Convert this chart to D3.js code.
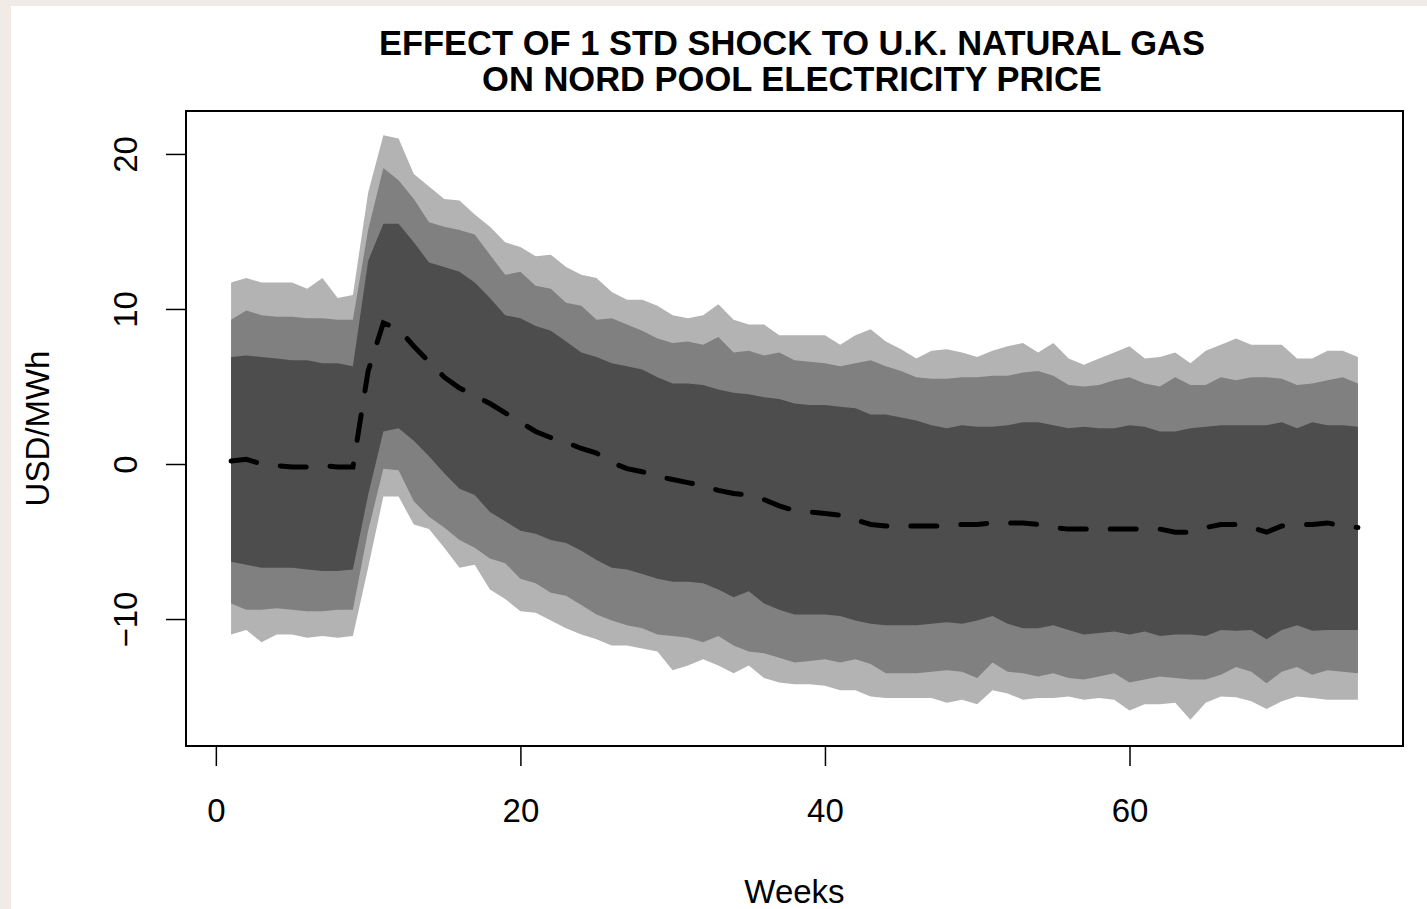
<!DOCTYPE html>
<html>
<head>
<meta charset="utf-8">
<script src="https://cdn.jsdelivr.net/npm/d3@7"></script>
<style>
  body { margin: 0; background: #ffffff; }
  text { font-family: "Liberation Sans", Arial, sans-serif; fill: #000; }
</style>
</head>
<body>
<svg id="chart" width="1427" height="909"></svg>
<script>
// weeks after the shock
var weeks = d3.range(1, 76);

// outer band (light grey)
var upperLight = [11.7, 12.0, 11.7, 11.7, 11.7, 11.3, 12.0, 10.7, 10.9, 17.5,
    21.2, 21.0, 18.7, 17.9, 17.1, 17.0, 16.1, 15.3, 14.3, 14.0,
    13.4, 13.5, 12.7, 12.2, 12.0, 11.1, 10.6, 10.6, 10.2, 9.6,
    9.4, 9.6, 10.3, 9.3, 9.0, 9.0, 8.3, 8.3, 8.3, 8.3,
    7.7, 8.3, 8.7, 7.9, 7.4, 6.8, 7.3, 7.4, 7.2, 6.9,
    7.3, 7.6, 7.8, 7.2, 7.8, 6.8, 6.4, 6.8, 7.2, 7.6,
    6.8, 6.9, 7.2, 6.5, 7.3, 7.7, 8.1, 7.7, 7.7, 7.7,
    6.8, 6.8, 7.3, 7.3, 6.9];
var lowerLight = [-11.0, -10.7, -11.5, -11.0, -11.0, -11.2, -11.1, -11.2, -11.1, -6.7,
    -2.1, -2.1, -3.9, -4.2, -5.4, -6.7, -6.5, -8.1, -8.7, -9.5,
    -9.6, -10.1, -10.6, -11.0, -11.3, -11.7, -11.7, -11.9, -12.1, -13.3,
    -13.0, -12.6, -13.0, -13.5, -13.0, -13.8, -14.1, -14.2, -14.2, -14.3,
    -14.6, -14.6, -15.0, -15.1, -15.1, -15.1, -15.1, -15.4, -15.2, -15.5,
    -14.6, -14.8, -15.2, -15.1, -15.1, -15.0, -15.2, -15.1, -15.2, -15.9,
    -15.5, -15.5, -15.4, -16.5, -15.4, -15.0, -15.05, -15.3, -15.8, -15.3,
    -15.0, -15.1, -15.2, -15.2, -15.2];

// middle band (mid grey)
var upperMid = [9.3, 9.9, 9.6, 9.5, 9.5, 9.4, 9.4, 9.3, 9.3, 15.1,
    19.1, 18.3, 17.1, 15.6, 15.3, 15.1, 14.8, 13.5, 12.2, 12.4,
    11.5, 11.3, 10.4, 10.2, 9.3, 9.4, 9.0, 8.6, 8.1, 7.8,
    7.9, 7.7, 8.2, 7.2, 7.3, 7.0, 7.2, 6.7, 6.6, 6.5,
    6.3, 6.5, 6.7, 6.3, 6.0, 5.6, 5.5, 5.5, 5.6, 5.6,
    5.7, 5.7, 5.9, 6.0, 5.7, 5.1, 5.0, 5.1, 5.4, 5.6,
    5.2, 5.0, 5.6, 5.1, 5.1, 5.6, 5.4, 5.6, 5.6, 5.5,
    5.1, 5.2, 5.4, 5.6, 5.2];
var lowerMid = [-9.0, -9.4, -9.4, -9.3, -9.4, -9.5, -9.5, -9.4, -9.4, -4.3,
    -0.3, -0.4, -2.4, -3.4, -4.1, -4.9, -5.4, -6.1, -6.4, -7.4,
    -7.7, -8.3, -8.5, -9.1, -9.7, -10.1, -10.4, -10.6, -11.0, -11.1,
    -11.2, -11.5, -11.1, -11.7, -12.1, -12.2, -12.5, -12.8, -12.7, -12.6,
    -12.8, -12.6, -12.9, -13.5, -13.5, -13.5, -13.4, -13.3, -13.4, -13.8,
    -12.8, -13.4, -13.5, -13.7, -13.5, -13.8, -13.9, -13.7, -13.5, -14.1,
    -13.9, -13.7, -13.8, -13.9, -13.9, -13.6, -13.1, -13.4, -14.15, -13.4,
    -13.1, -13.6, -13.3, -13.4, -13.5];

// inner band (dark grey)
var upperDark = [6.9, 7.0, 6.9, 6.8, 6.7, 6.7, 6.5, 6.5, 6.3, 13.1,
    15.5, 15.5, 14.3, 13.0, 12.7, 12.4, 11.7, 10.7, 9.6, 9.4,
    8.9, 8.6, 7.9, 7.2, 6.9, 6.5, 6.3, 6.1, 5.6, 5.2,
    5.2, 5.1, 4.8, 4.6, 4.5, 4.3, 4.2, 3.9, 3.8, 3.8,
    3.7, 3.6, 3.2, 3.2, 3.0, 2.8, 2.5, 2.3, 2.5, 2.4,
    2.4, 2.5, 2.7, 2.7, 2.5, 2.3, 2.4, 2.3, 2.3, 2.5,
    2.4, 2.1, 2.1, 2.3, 2.4, 2.5, 2.5, 2.5, 2.5, 2.7,
    2.3, 2.7, 2.5, 2.5, 2.4];
var lowerDark = [-6.3, -6.5, -6.7, -6.7, -6.7, -6.8, -6.9, -6.9, -6.8, -2.0,
    2.1, 2.3, 1.5, 0.5, -0.6, -1.6, -2.0, -3.1, -3.7, -4.3,
    -4.5, -4.9, -5.1, -5.6, -6.2, -6.7, -6.8, -7.1, -7.4, -7.6,
    -7.6, -7.7, -8.1, -8.6, -8.2, -9.0, -9.4, -9.7, -9.7, -9.7,
    -9.8, -10.1, -10.3, -10.4, -10.4, -10.4, -10.3, -10.2, -10.3, -10.1,
    -9.8, -10.3, -10.6, -10.6, -10.4, -10.7, -11.0, -10.9, -10.8, -11.0,
    -10.8, -11.1, -11.0, -11.0, -11.1, -10.7, -10.75, -10.7, -11.3, -10.7,
    -10.4, -10.75, -10.7, -10.7, -10.7];

// median response (dashed)
var median = [0.2, 0.3, 0.0, -0.1, -0.2, -0.2, -0.1, -0.2, -0.2, 6.0,
    9.1, 8.7, 7.6, 6.6, 5.6, 4.9, 4.4, 3.9, 3.3, 2.7,
    2.1, 1.7, 1.4, 1.0, 0.7, 0.1, -0.3, -0.5, -0.8, -1.0,
    -1.2, -1.4, -1.7, -1.9, -2.0, -2.3, -2.7, -3.0, -3.1, -3.2,
    -3.3, -3.6, -3.9, -4.0, -4.0, -4.0, -4.0, -4.0, -3.9, -3.9,
    -3.8, -3.8, -3.8, -3.9, -4.1, -4.2, -4.2, -4.2, -4.2, -4.2,
    -4.2, -4.2, -4.4, -4.4, -4.1, -3.9, -3.9, -4.1, -4.4, -4.0,
    -3.9, -3.9, -3.8, -4.0, -4.1];

var xTicks = [0, 20, 40, 60];
var yTicks = [-10, 0, 10, 20];

var titleLines = ["EFFECT OF 1 STD SHOCK TO U.K. NATURAL GAS", "ON NORD POOL ELECTRICITY PRICE"];

//////////////////////////////////////////////////////////////////////
var plot = { left: 186, top: 111, right: 1403, bottom: 746 };

var svg = d3.select("#chart");

// beige window frame on the left / top
svg.append("rect").attr("x", 0).attr("y", 0).attr("width", 1427).attr("height", 6).style("fill", "#f0ece5");
svg.append("rect").attr("x", 0).attr("y", 0).attr("width", 11).attr("height", 909).style("fill", "#f0ece5");

// R style 4% padding on both axes
var x = d3.scaleLinear()
    .domain([1 - 74 * 0.04, 75 + 74 * 0.04])
    .range([plot.left, plot.right]);

var y = d3.scaleLinear()
    .domain([-18.19, 22.77])
    .range([plot.bottom, plot.top]);

function band(upper, lower) {
    return d3.area()
        .x(d => x(d))
        .y0((d, i) => y(lower[i]))
        .y1((d, i) => y(upper[i]))(weeks);
}

var bands = [
    { up: upperLight, lo: lowerLight, col: "#b3b3b3" },
    { up: upperMid, lo: lowerMid, col: "#808080" },
    { up: upperDark, lo: lowerDark, col: "#4d4d4d" }
];

var g = svg.append("g").attr("class", "fan");
bands.forEach(function (b) {
    g.append("path")
        .attr("d", band(b.up, b.lo))
        .style("fill", b.col)
        .style("stroke", "none");
});

// median line
var line = d3.line()
    .x(d => x(d))
    .y((d, i) => y(median[i]));

g.append("path")
    .attr("d", line(weeks))
    .style("fill", "none")
    .style("stroke", "#000")
    .style("stroke-width", 5)
    .style("stroke-linecap", "round")
    .style("stroke-dasharray", "26,24");

// box
svg.append("rect")
    .attr("x", plot.left)
    .attr("y", plot.top)
    .attr("width", plot.right - plot.left)
    .attr("height", plot.bottom - plot.top)
    .style("fill", "none")
    .style("stroke", "#000")
    .style("stroke-width", 2);

// x axis
var xAxis = svg.append("g")
    .attr("transform", "translate(0," + plot.bottom + ")")
    .call(d3.axisBottom(x).tickValues(xTicks).tickSize(20).tickFormat(d3.format("d")));
xAxis.select(".domain").remove();
xAxis.selectAll("line").style("stroke", "#000").style("stroke-width", 1.5);
xAxis.selectAll("text")
    .attr("y", 76).attr("dy", 0)
    .style("font-size", "33px")
    .style("font-family", "'Liberation Sans', Arial, sans-serif")
    .style("fill", "#000");

// y axis (labels turned like R's las = 0)
var yAxis = svg.append("g")
    .attr("transform", "translate(" + plot.left + ",0)")
    .call(d3.axisLeft(y).tickValues(yTicks).tickSize(20).tickFormat(d3.format("d")));
yAxis.select(".domain").remove();
yAxis.selectAll("line").style("stroke", "#000").style("stroke-width", 1.5);
yAxis.selectAll("text")
    .attr("x", 0).attr("dy", 0)
    .attr("transform", "translate(-49,0) rotate(-90)")
    .style("text-anchor", "middle")
    .style("font-size", "33px")
    .style("font-family", "'Liberation Sans', Arial, sans-serif")
    .style("fill", "#000");

// titles
svg.append("text")
    .attr("x", (plot.left + plot.right) / 2)
    .attr("y", 903)
    .attr("text-anchor", "middle")
    .style("font-size", "33px")
    .text("Weeks");

svg.append("text")
    .attr("transform", "translate(49," + (plot.top + plot.bottom) / 2 + ") rotate(-90)")
    .attr("text-anchor", "middle")
    .style("font-size", "33px")
    .text("USD/MWh");

svg.append("g").selectAll("text")
    .data(titleLines)
    .enter().append("text")
    .attr("x", 792)
    .attr("y", (d, i) => 55 + i * 36)
    .attr("text-anchor", "middle")
    .style("font-size", "34.5px")
    .style("font-weight", "bold")
    .text(d => d);
</script>
</body>
</html>
